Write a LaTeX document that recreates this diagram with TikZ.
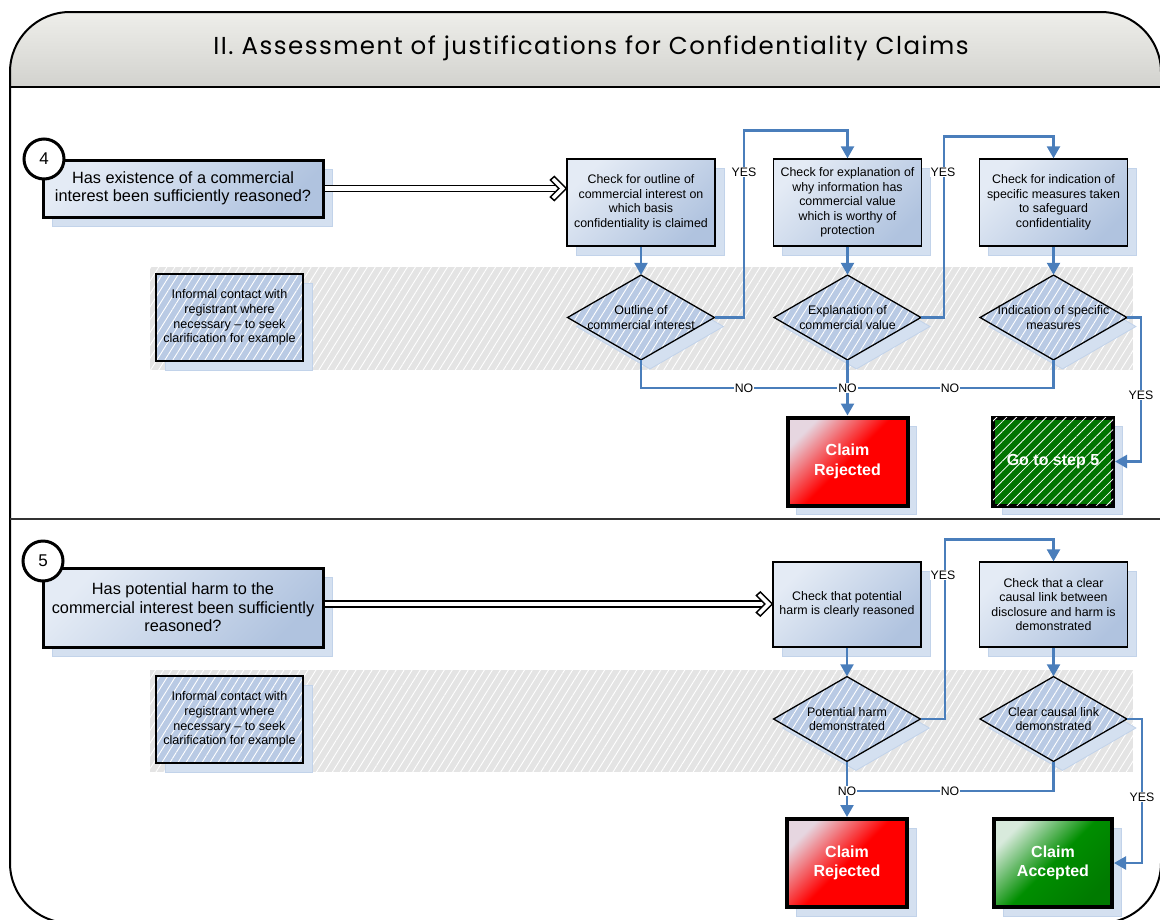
\documentclass[tikz,border=0pt]{standalone}
\usepackage{fontspec}
\setmainfont{Liberation Sans}
\newfontfamily\titlefont[LetterSpace=6]{Poppins}
\usetikzlibrary{shapes.geometric,arrows.meta,patterns.meta,shadows,calc}
\definecolor{boxlight}{HTML}{E4EBF5}
\definecolor{boxdark}{HTML}{B0C3DF}
\definecolor{diafill}{HTML}{B9CAE4}
\definecolor{shd}{HTML}{D4E0F0}
\definecolor{shdb}{HTML}{C2D3EA}
\definecolor{connblue}{HTML}{4A7EBB}
\definecolor{bandgray}{HTML}{E4E4E4}
\definecolor{titletop}{HTML}{EEEEEA}
\definecolor{titlebot}{HTML}{B6B6B2}
\definecolor{redlight}{HTML}{E6D6E0}
\definecolor{greendark}{HTML}{007A00}
\definecolor{greenlight}{HTML}{D8EADC}
\definecolor{gostep}{HTML}{007400}
\tikzset{
  shadowed/.style={general shadow={shadow xshift=9pt, shadow yshift=-9pt, fill=shd, draw=shdb, line width=0.8pt}},
  stripes/.style={pattern={Lines[angle=58,distance=6.8pt,line width=0.9pt]}, pattern color=white},
  qbox/.style={shadowed, draw, line width=3pt, top color=boxlight, bottom color=boxdark, shading angle=45,
    minimum width=280pt, inner sep=0pt, align=center, font=\fontsize{16.3}{18.5}\selectfont},
  chk/.style={shadowed, draw, line width=1.3pt, top color=boxlight, bottom color=boxdark, shading angle=45,
    minimum width=148pt, minimum height=87pt, inner sep=0pt, align=center, font=\fontsize{12.4}{14.5}\selectfont},
  infbox/.style={shadowed, fill=diafill, postaction={stripes}, postaction={draw, line width=1.3pt},
    minimum width=147pt, minimum height=87pt, inner sep=0pt, align=center, font=\fontsize{12.6}{14.8}\selectfont},
  dia/.style={shadowed, diamond, fill=diafill, postaction={stripes}, postaction={draw, line width=1.3pt},
    minimum width=147pt, minimum height=85pt, inner sep=0pt},
  dlabel/.style={font=\fontsize{12.4}{14.5}\selectfont, align=center},
  endbox/.style={shadowed, draw, line width=4pt, minimum width=120pt, minimum height=88pt, inner sep=0pt,
    align=center, text=white, font=\bfseries\fontsize{16}{19.5}\selectfont},
  circ/.style={circle, draw, line width=3pt, fill=white, minimum size=40pt, inner sep=0pt, font=\fontsize{17}{20}\selectfont},
  conn/.style={draw=connblue, line width=2.3pt, -{Triangle[width=13pt,length=12pt]}},
  connl/.style={draw=connblue, line width=2.3pt},
  lbl/.style={fill=white, inner sep=1pt, font=\fontsize{12.3}{14}\selectfont},
  dbl/.style={draw=black, double=white, double distance=4.5pt, line width=1.5pt},
  chevron/.style={fill=white, draw=black, line width=1.5pt, line join=miter},
}
\newcommand\openhead[1]{\path[chevron] (#1) -- ++(-12,-12) -- ++(-4,3.5) -- ++(8.5,8.5) -- ++(-8.5,8.5) -- ++(4,3.5) -- cycle;}
\begin{document}
\begin{tikzpicture}[x=1pt,y=-1pt]
\useasboundingbox (0,0) rectangle (1160,919);
% title band
\begin{scope}
\clip (0,0) rectangle (1160,87);
\fill[top color=titletop, bottom color=titlebot, rounded corners=60pt] (10,12) rectangle (1161,162);
\end{scope}
\node[font=\titlefont\fontsize{24.5}{28}\selectfont] (title) at (591,48) {II. Assessment of justifications for Confidentiality Claims};
\draw[line width=2pt, rounded corners=60pt] (10,12) rectangle (1161,923);
\draw[line width=2pt] (10,87) -- (1161,87);
\draw[line width=1.5pt, draw=black!80] (10,519) -- (1161,519);

% bands
\fill[bandgray] (150,267) rectangle (1133,370);
\fill[stripes] (150,267) rectangle (1133,370);
\fill[bandgray] (150,670) rectangle (1133,772);
\fill[stripes] (150,670) rectangle (1133,772);

% ===== Step 4 =====
\node[qbox, minimum height=57pt] (q4) at (183,188.5) {Has existence of a commercial\\interest been sufficiently reasoned?};
\node[circ] (n4) at (44,159) {4};
\node[chk] (c1) at (641,202.5) {Check for outline of\\commercial interest on\\which basis\\confidentiality is claimed};
\node[chk] (c2) at (847.5,202.5) {Check for explanation of\\why information has\\commercial value\\which is worthy of\\protection};
\node[chk] (c3) at (1053.5,202.5) {Check for indication of\\specific measures taken\\to safeguard\\confidentiality};
\node[infbox] (i4) at (229.5,317.5) {Informal contact with\\registrant where\\necessary -- to seek\\clarification for example};
\node[dia, label={[dlabel]center:{Outline of\\commercial interest}}] (d1) at (641,317.5) {};
\node[dia, label={[dlabel]center:{Explanation of\\commercial value}}] (d2) at (847.5,317.5) {};
\node[dia, label={[dlabel]center:{Indication of specific\\measures}}] (d3) at (1053.5,317.5) {};
\node[endbox, top color=redlight, bottom color=red, middle color=red, shading angle=45] (r4) at (847.5,461.5) {Claim\\Rejected};
\node[endbox, fill=gostep, postaction={pattern={Lines[angle=45,distance=7pt,line width=0.8pt]}, pattern color=white}] (g5) at (1053,461.5) {Go to step 5};

\coordinate (t4) at (c1.west |- q4.east);
\draw[dbl] (q4.east) -- ($(t4)+(-3,0)$);
\openhead{t4}
\draw[conn] (c1.south) -- (d1.north);
\draw[conn] (c2.south) -- (d2.north);
\draw[conn] (c3.south) -- (d3.north);
\draw[conn] (d1.east) -- ++(29,0) |- ($(c2.north)+(0,-28)$) -- (c2.north);
\draw[conn] (d2.east) -- ++(23,0) |- ($(c3.north)+(0,-22)$) -- (c3.north);
\draw[conn] (d2.south) -- (r4.north);
\draw[connl] (d1.south) |- ($(d2.south)+(0,28)$);
\draw[connl] (d3.south) |- ($(d2.south)+(0,28)$);
\draw[conn] (d3.east) -- ++(14,0) |- (g5.east);
\node[lbl] (y1) at (744,172) {YES};
\node[lbl] (y2) at (943,172) {YES};
\node[lbl] (y3) at (1141,395) {YES};
\node[lbl] (no1) at (744,388) {NO};
\node[lbl] (no2) at (847.5,388) {NO};
\node[lbl] (no3) at (950,388) {NO};

% ===== Step 5 =====
\node[qbox, minimum height=79pt] (q5) at (183,607.5) {Has potential harm to the\\commercial interest been sufficiently\\reasoned?};
\node[circ] (n5) at (43,561) {5};
\node[chk, minimum height=85pt] (c5a) at (847,604.5) {Check that potential\\harm is clearly reasoned};
\node[chk, minimum height=85pt] (c5b) at (1053.5,604.5) {Check that a clear\\causal link between\\disclosure and harm is\\demonstrated};
\node[infbox] (i5) at (229.5,719.5) {Informal contact with\\registrant where\\necessary -- to seek\\clarification for example};
\node[dia, label={[dlabel]center:{Potential harm\\demonstrated}}] (d5a) at (847,719) {};
\node[dia, label={[dlabel]center:{Clear causal link\\demonstrated}}] (d5b) at (1053.5,719) {};
\node[endbox, top color=redlight, bottom color=red, middle color=red, shading angle=45] (r5) at (847,863) {Claim\\Rejected};
\node[endbox, minimum width=118pt, top color=greenlight, bottom color=greendark, middle color=greendark!85!green, shading angle=45] (a5) at (1053,863) {Claim\\Accepted};

\coordinate (t5) at (c5a.west |- 0,604);
\draw[dbl] (q5.east |- t5) -- ($(t5)+(-3,0)$);
\openhead{t5}
\draw[conn] (c5a.south) -- (d5a.north);
\draw[conn] (c5b.south) -- (d5b.north);
\draw[conn] (d5a.east) -- ++(24,0) |- ($(c5b.north)+(0,-22)$) -- (c5b.north);
\draw[conn] (d5a.south) -- (r5.north);
\draw[connl] (d5b.south) |- ($(d5a.south)+(0,29)$);
\draw[conn] (d5b.east) -- ++(15,0) |- (a5.east);
\node[lbl] (y4) at (943,575) {YES};
\node[lbl] (y5) at (1142,797) {YES};
\node[lbl] (no4) at (847,791) {NO};
\node[lbl] (no5) at (950,791) {NO};
\end{tikzpicture}
\end{document}
